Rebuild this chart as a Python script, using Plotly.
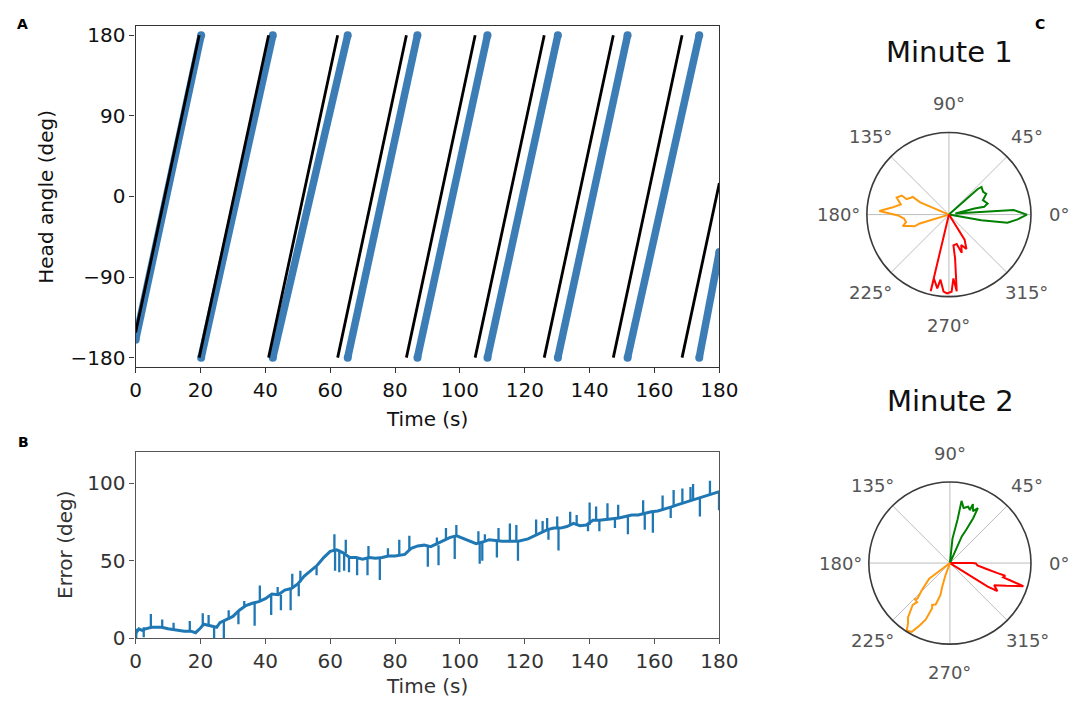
import math
import plotly.graph_objects as go

# ---------------- data ----------------
# Panel A: stimulus (black) sweeps: start time, start angle, end time, end angle
black_t0 = [0.0, 19.6, 41.0, 62.3, 83.5, 104.7, 126.0, 147.3, 168.5]
black_a0 = [-152, -180, -180, -180, -180, -180, -180, -180, -180]
black_t1 = [19.6, 41.0, 62.3, 83.5, 104.7, 126.0, 147.3, 168.5, 180.0]
black_a1 = [180, 180, 180, 180, 180, 180, 180, 180, 15]

# Panel A: head angle (blue) sweeps
blue_t0 = [0.0, 20.2, 42.3, 65.4, 86.9, 108.5, 130.2, 151.7, 173.8]
blue_a0 = [-160, -180, -180, -180, -180, -180, -180, -180, -180]
blue_t1 = [20.2, 42.3, 65.4, 86.9, 108.5, 130.2, 151.7, 173.8, 180.0]
blue_a1 = [180, 180, 180, 180, 180, 180, 180, 180, -62]

angle_ticks = [-180, -90, 0, 90, 180]
angle_tick_text = ["\u2212180", "\u221290", "0", "90", "180"]
time_ticks = [0, 20, 40, 60, 80, 100, 120, 140, 160, 180]

# Panel B: error baseline
err_t = [0, 1, 2, 3, 5, 8, 10, 12, 15, 17, 18.5, 20, 21, 23, 25, 26, 28, 30, 32, 34,
         36, 38, 40, 42, 44, 46, 48, 50, 52, 54, 56, 58, 60, 62, 64, 66, 68, 70, 72, 74,
         76, 78, 80, 83, 85, 87, 89, 91, 93, 95, 97, 99, 101, 103, 105, 107, 109, 111,
         113, 115, 118, 121, 123, 125, 127, 129, 131, 133, 135, 137, 139, 141, 143, 145,
         147, 149, 151, 153, 155, 157, 159, 161, 163, 165, 167, 170, 173, 175, 177, 179, 180]
err_v = [3, 6, 5, 6, 7, 7, 6, 5.5, 4.5, 4.5, 3.5, 6.5, 9, 8, 7, 10, 12, 14, 18, 21,
         22.5, 23.5, 25.5, 28.5, 28, 31, 32, 35, 40, 43.5, 47, 52, 56, 57, 55, 52, 52, 51, 52, 51.5,
         52, 53, 53, 54, 58, 59.5, 60, 59, 61, 63.5, 65, 66, 64.5, 62.5, 61, 62, 63.5, 63,
         62.5, 62.5, 62.5, 64, 66, 68, 70, 71, 71, 72, 74, 72.5, 73, 76, 76, 76.5,
         77, 77.5, 78.5, 79.5, 79.5, 80.5, 81.5, 82, 83, 84.5, 86, 88, 90, 91.5, 93, 94, 94.5]

# Panel B: spikes (time, baseline value, tip value)
spike_t = [0.2, 2.5, 4.7, 8.2, 11.7, 16.7, 20.7, 22.5, 24.2, 27.2, 28.7, 31.7, 33.5, 36.7,
           38.3, 41.8, 43.8, 44.8, 47.8, 48.3, 50.3, 50.8, 55.8, 61.3, 61.5, 62.8, 64.3,
           64.8, 65.8, 68.3, 71.5, 71.8, 75.3, 77.8, 81.3, 84.4, 90.1, 92.9, 93.4, 95.7,
           98.4, 98.9, 105.7, 106.1, 106.9, 107.7, 111.4, 111.9, 115.4, 117.4, 117.9,
           123.5, 125.5, 126.9, 127.3, 130.0, 130.4, 134.0, 136.0, 139.5, 140.0, 142.0,
           143.0, 145.5, 147.8, 148.8, 151.8, 156.5, 157.0, 159.5, 162.5, 165.0, 165.9,
           168.6, 171.1, 171.9, 174.0, 177.1, 179.9]
spike_base = [0, 0.5, 7, 7, 5.5, 4.5, 8, 8, 7, 11, 12, 17, 20, 22.5,
              23.5, 28, 28, 28, 32, 32, 35, 36, 46, 57, 57, 57, 55,
              55, 53, 52, 52, 52, 52, 53, 53, 57, 59.5, 60, 60, 63.5,
              65.5, 65.5, 61, 61, 61.5, 62, 63, 63, 62.5, 62.5, 62.5,
              66, 68, 70, 70, 71, 71, 73, 73, 73, 73, 76,
              76, 76.5, 77, 77.5, 78.5, 80, 80, 81.5, 82.5, 84.5, 85,
              87, 89, 89.5, 90.5, 93, 94.5]
spike_tip = [6, 7, 15.5, 12, 10, 11, 16, 15, 0, 0, 18, 9, 24, 8,
             34, 15, 33, 18, 18, 41.5, 27, 43.5, 40.5, 67, 43.5, 42.5, 43.5,
             63.5, 42.5, 40.5, 40.5, 59.5, 37.5, 58, 63.5, 66, 46, 65, 47, 71,
             51, 73, 69, 48, 50, 67, 52, 71, 74, 73, 50,
             76.5, 75.5, 77.5, 63.5, 78.5, 56.5, 81.5, 79.5, 69, 87.5, 85,
             69, 87, 71, 86, 67, 89, 70, 68, 92, 77.5, 95.5,
             96.5, 97.5, 99.5, 78.5, 101.5, 82.5]
error_ticks = [0, 50, 100]

# Panel C: polar distributions (theta in degrees, normalised radius)
m1_green_theta = [-12, -10, -8, -4, 0, 4, 10, 13.5, 12.4, 16, 23, 29, 33.6, 40.3, 41.6, 42]
m1_green_r = [0, 0.4, 0.72, 0.84, 0.95, 0.79, 0.08, 0.32, 0.44, 0.49, 0.45, 0.52, 0.5, 0.52, 0.47, 0]
m1_orange_theta = [157, 157, 154, 160, 158, 162, 168, 173, 177, 181, 185, 190, 194, 196, 199, 197, 198]
m1_orange_r = [0, 0.38, 0.49, 0.55, 0.62, 0.67, 0.6, 0.7, 0.85, 0.62, 0.55, 0.53, 0.58, 0.5, 0.44, 0.38, 0]
m1_red_theta = [256, 256.6, 256.8, 261, 262.6, 266, 268.6, 272, 274, 275.8, 278, 278.3, 284.8, 288.6, 292, 297, 302, 303]
m1_red_r = [0, 0.96, 0.8, 0.91, 0.8, 0.94, 0.96, 0.94, 0.78, 0.94, 0.54, 0.38, 0.37, 0.49, 0.4, 0.47, 0.36, 0]

m2_green_theta = [86, 84, 80, 79.4, 76, 72, 69.4, 68.7, 66, 63, 62.6, 64, 66, 62]
m2_green_r = [0, 0.3, 0.55, 0.78, 0.7, 0.73, 0.7, 0.78, 0.7, 0.76, 0.62, 0.45, 0.36, 0]
m2_red_theta = [0, 0, -1, -5, -9, -12, -13, -15, -16, -17.5, -22, -26.6, -30.5, -32, -33]
m2_red_r = [0, 0.28, 0.32, 0.34, 0.45, 0.6, 0.7, 0.68, 0.77, 0.95, 0.75, 0.61, 0.68, 0.55, 0]
m2_orange_theta = [215, 217, 224, 227.5, 226, 230, 228.3, 232.5, 235, 237.5, 241, 244, 246.8, 248.6, 247, 251, 253.5, 252, 250, 250]
m2_orange_r = [0, 0.32, 0.48, 0.59, 0.62, 0.63, 0.69, 0.85, 0.9, 0.99, 0.97, 0.86, 0.76, 0.6, 0.56, 0.54, 0.41, 0.31, 0.16, 0]

polar_ticks = [0, 45, 90, 135, 180, 225, 270, 315]
polar_titles = ["Minute 1", "Minute 2"]

# ---------------- figure ----------------
W, H = 1084, 708
def px(x):
    return x / W
def py(y):
    return 1 - y / H

FONT = "DejaVu Sans"
BLUE_A = "#3d7db6"
BLUE_B = "#1f77b4"
GREEN = "#008000"
ORANGE = "#ff9a0e"
RED = "#ff0000"

fig = go.Figure()

# Panel A
bx, by = [], []
for t0, a0, t1, a1 in zip(blue_t0, blue_a0, blue_t1, blue_a1):
    bx += [t0, t1, None]
    by += [a0, a1, None]
fig.add_trace(go.Scatter(x=bx, y=by, mode="lines+markers",
                         line=dict(color=BLUE_A, width=7.5),
                         marker=dict(color=BLUE_A, size=8),
                         xaxis="x", yaxis="y", hoverinfo="skip"))
kx, ky = [], []
for t0, a0, t1, a1 in zip(black_t0, black_a0, black_t1, black_a1):
    kx += [t0, t1, None]
    ky += [a0, a1, None]
fig.add_trace(go.Scatter(x=kx, y=ky, mode="lines",
                         line=dict(color="black", width=2.8),
                         xaxis="x", yaxis="y", hoverinfo="skip"))

# Panel B
fig.add_trace(go.Scatter(x=err_t, y=err_v, mode="lines",
                         line=dict(color=BLUE_B, width=3),
                         xaxis="x2", yaxis="y2", hoverinfo="skip"))
sx, sy = [], []
for t, b, tip in zip(spike_t, spike_base, spike_tip):
    sx += [t, t, None]
    sy += [b, tip, None]
fig.add_trace(go.Scatter(x=sx, y=sy, mode="lines",
                         line=dict(color=BLUE_B, width=2.3),
                         xaxis="x2", yaxis="y2", hoverinfo="skip"))

# Panel C
for th, rr, col in [(m1_green_theta, m1_green_r, GREEN),
                    (m1_orange_theta, m1_orange_r, ORANGE),
                    (m1_red_theta, m1_red_r, RED)]:
    fig.add_trace(go.Scatterpolar(theta=th, r=rr, mode="lines",
                                  line=dict(color=col, width=2), subplot="polar"))
for th, rr, col in [(m2_green_theta, m2_green_r, GREEN),
                    (m2_red_theta, m2_red_r, RED),
                    (m2_orange_theta, m2_orange_r, ORANGE)]:
    fig.add_trace(go.Scatterpolar(theta=th, r=rr, mode="lines",
                                  line=dict(color=col, width=2), subplot="polar2"))

tickfont_a = dict(family=FONT, size=20, color="#111111")
tickfont_b = dict(family=FONT, size=20, color="#333333")

common_axis = dict(showgrid=False, zeroline=False, showline=True, mirror=True,
                   ticks="outside", ticklen=5, tickwidth=1.2)

X0, X1 = 124.5, 722
fig.update_layout(
    width=W, height=H,
    margin=dict(l=0, r=0, t=0, b=0),
    paper_bgcolor="white", plot_bgcolor="white",
    showlegend=False,
    font=dict(family=FONT),
    xaxis=dict(domain=[px(X0), px(X1)], range=[0, 180], anchor="y",
               tickvals=time_ticks, tickfont=tickfont_a,
               linecolor="#333333", tickcolor="#333333", linewidth=1.3, **common_axis),
    yaxis=dict(domain=[py(363.3), py(15.7)], range=[-190, 190], anchor="x",
               tickvals=angle_ticks, ticktext=angle_tick_text, tickfont=tickfont_a,
               linecolor="#333333", tickcolor="#333333", linewidth=1.3, **common_axis),
    xaxis2=dict(domain=[px(X0), px(X1)], range=[0, 180], anchor="y2",
                tickvals=time_ticks, tickfont=tickfont_b,
                linecolor="#555555", tickcolor="#555555", linewidth=1.3, **common_axis),
    yaxis2=dict(domain=[py(640.7), py(450.7)], range=[0, 120], anchor="x2",
                tickvals=error_ticks, tickfont=tickfont_b,
                linecolor="#555555", tickcolor="#555555", linewidth=1.3, **common_axis),
)

centers = [(957, 208, 84), (958, 564, 83)]
polar_names = ["polar", "polar2"]
for name, (cx, cy, R) in zip(polar_names, centers):
    fig.update_layout(**{name: dict(
        domain=dict(x=[px(cx - R), px(cx + R)], y=[py(cy + R), py(cy - R)]),
        bgcolor="white",
        radialaxis=dict(visible=False, range=[0, 1]),
        angularaxis=dict(tickvals=polar_ticks, showticklabels=False, ticks="",
                         showgrid=True, gridcolor="#bdbdbd", gridwidth=1.3,
                         showline=True, linecolor="#3a3a3a", linewidth=1.6,
                         direction="counterclockwise", rotation=0),
    )})

annotations = []
for (cx, cy, R), title in zip(centers, polar_titles):
    annotations.append(dict(x=px(cx + 1), y=py(cy - 166), xref="paper", yref="paper",
                            text=title, showarrow=False, xanchor="center", yanchor="middle",
                            font=dict(family=FONT, size=29, color="#111111")))
    for ang in polar_ticks:
        d = R + 29
        lx = cx + d * math.cos(math.radians(ang))
        ly = cy - d * math.sin(math.radians(ang))
        annotations.append(dict(x=px(lx), y=py(ly), xref="paper", yref="paper",
                                text=f"{ang}\u00b0", showarrow=False,
                                xanchor="center", yanchor="middle",
                                font=dict(family=FONT, size=18, color="#555555")))

# axis titles and panel letters
extra = [
    dict(x=px(33), y=py(189.5), text="Head angle (deg)", textangle=-90,
         font=dict(family=FONT, size=20, color="#111111")),
    dict(x=px(423), y=py(417), text="Time (s)",
         font=dict(family=FONT, size=20, color="#111111")),
    dict(x=px(52), y=py(545.7), text="Error (deg)", textangle=-90,
         font=dict(family=FONT, size=20, color="#333333")),
    dict(x=px(423), y=py(690), text="Time (s)",
         font=dict(family=FONT, size=20, color="#333333")),
    dict(x=px(9), y=py(13), text="<b>A</b>", font=dict(family=FONT, size=14, color="black")),
    dict(x=px(10), y=py(440), text="<b>B</b>", font=dict(family=FONT, size=14, color="black")),
    dict(x=px(1050), y=py(13), text="<b>C</b>", font=dict(family=FONT, size=14, color="black")),
]
for a in extra:
    a.update(xref="paper", yref="paper", showarrow=False, xanchor="center", yanchor="middle")
annotations += extra

fig.update_layout(annotations=annotations)
fig.write_html("out.html")
